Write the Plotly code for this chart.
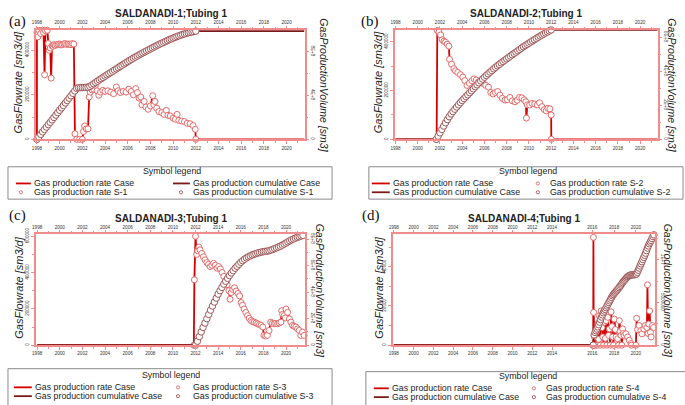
import numpy as np
import plotly.graph_objects as go

W, H = 685, 405

# ---------------- Panel (a) SALDANADI-1 ----------------
a_rate_year = [1998.00, 1998.08, 1998.17, 1998.33, 1998.50, 1998.58, 1998.67, 1998.75, 1998.92,
               1999.00, 1999.08, 1999.17, 1999.25, 1999.33, 1999.42, 1999.50, 1999.62, 1999.75,
               1999.88, 2000.00, 2000.12, 2000.25, 2000.38, 2000.50, 2000.62, 2000.75, 2000.88,
               2001.00, 2001.12, 2001.25, 2001.35, 2001.50, 2001.75, 2002.00, 2002.10,
               2002.20, 2002.35, 2002.50, 2002.60, 2002.70, 2002.85, 2003.00, 2003.15, 2003.30,
               2003.45, 2003.60, 2003.80, 2004.00, 2004.25, 2004.50, 2004.75, 2005.00, 2005.15,
               2005.35, 2005.60, 2005.85, 2006.10, 2006.30, 2006.50, 2006.70, 2006.85, 2007.00,
               2007.15, 2007.25, 2007.45, 2007.60, 2007.80, 2008.00, 2008.20, 2008.30, 2008.40,
               2008.55, 2008.75, 2009.00, 2009.20, 2009.40, 2009.55, 2009.75, 2010.00, 2010.20,
               2010.35, 2010.50, 2010.75, 2011.00, 2011.25, 2011.50, 2011.75, 2011.95, 2012.00]
a_rate = [480000, 460000, 490000, 475000, 490000, 480000, 290000, 488000, 490000,
          430000, 400000, 410000, 275000, 420000, 418000, 425000, 422000, 425000,
          427000, 428000, 424000, 425000, 429000, 430000, 426000, 428000, 427000,
          425000, 430000, 428000, 25000, 0, 0, 0, 35000,
          60000, 47000, 47000, 190000, 212000, 222000, 225000, 242000, 218000,
          198000, 212000, 220000, 215000, 218000, 212000, 205000, 235000, 218000,
          210000, 215000, 212000, 225000, 215000, 200000, 228000, 210000, 185000,
          190000, 155000, 170000, 145000, 135000, 150000, 196000, 155000, 170000,
          140000, 125000, 120000, 112000, 130000, 108000, 105000, 95000, 90000,
          112000, 85000, 82000, 80000, 72000, 70000, 62000, 45000, 0]
a_cum_year = np.round(np.arange(1998.0, 2012.01, 1 / 6), 3)
a_cum = np.array([0.00, 0.22, 0.45, 0.68, 0.90, 1.12, 1.34, 1.55, 1.77, 1.99, 2.21, 2.43,
                  2.65, 2.87, 3.09, 3.31, 3.53, 3.75, 3.97, 4.19, 4.41, 4.64, 4.70, 4.71,
                  4.71, 4.72, 4.73, 4.75, 4.82, 4.94, 5.06, 5.18, 5.30, 5.42, 5.53, 5.64,
                  5.76, 5.87, 5.98, 6.09, 6.20, 6.31, 6.42, 6.53, 6.64, 6.75, 6.86, 6.97,
                  7.08, 7.19, 7.29, 7.39, 7.49, 7.59, 7.69, 7.79, 7.88, 7.97, 8.06, 8.15,
                  8.24, 8.33, 8.42, 8.51, 8.60, 8.68, 8.76, 8.84, 8.92, 9.00, 9.08, 9.15,
                  9.22, 9.29, 9.36, 9.43, 9.49, 9.55, 9.60, 9.65, 9.70, 9.74, 9.78, 9.82,
                  9.86]) * 1e8

# ---------------- Panel (b) SALDANADI-2 ----------------
b_rate_year = [2001.70, 2001.76, 2001.91, 2002.06, 2002.21, 2002.36, 2002.50, 2002.65, 2002.80,
               2002.86, 2003.04, 2003.25, 2003.39, 2003.60, 2003.84, 2004.05, 2004.23, 2004.43,
               2004.64, 2004.88, 2005.06, 2005.26, 2005.47, 2005.71, 2005.92, 2006.12, 2006.36,
               2006.57, 2006.78, 2006.99, 2007.19, 2007.40, 2007.61, 2007.85, 2008.05, 2008.29,
               2008.50, 2008.74, 2008.94, 2009.15, 2009.36, 2009.57, 2009.72, 2009.77, 2009.86,
               2010.07, 2010.28, 2010.52, 2010.75, 2010.96, 2011.17, 2011.38, 2011.55, 2011.70,
               2011.88, 2012.00, 2012.01]
b_rate = [0, 446000, 440000, 428000, 408000, 402000, 398000, 390000, 382000,
          328000, 308000, 290000, 281000, 274000, 265000, 255000, 241000, 221000,
          230000, 240000, 248000, 243000, 236000, 232000, 228000, 221000, 214000,
          192000, 186000, 192000, 196000, 181000, 168000, 161000, 163000, 172000,
          158000, 154000, 160000, 172000, 170000, 162000, 154000, 87000, 141000,
          141000, 147000, 145000, 141000, 150000, 134000, 122000, 117000, 127000,
          125000, 100000, 0]
b_cum_year = np.round(np.arange(2001.667, 2012.01, 1 / 6), 3)
b_cum = np.array([0.00, 0.19, 0.38, 0.58, 0.78, 0.97, 1.16, 1.33, 1.49, 1.63, 1.77, 1.90,
                  2.03, 2.16, 2.28, 2.39, 2.51, 2.62, 2.74, 2.85, 2.97, 3.09, 3.20, 3.32,
                  3.43, 3.54, 3.65, 3.75, 3.85, 3.95, 4.04, 4.14, 4.23, 4.32, 4.40, 4.49,
                  4.57, 4.65, 4.73, 4.81, 4.89, 4.97, 5.05, 5.12, 5.20, 5.28, 5.36, 5.44,
                  5.51, 5.58, 5.65, 5.72, 5.79, 5.86, 5.93, 6.00, 6.07, 6.13, 6.19, 6.25,
                  6.31, 6.37, 6.43]) * 1e8

# ---------------- Panel (c) SALDANADI-3 ----------------
c_rate_year = [2011.85, 2011.90, 2012.00, 2012.10, 2012.20, 2012.30, 2012.40, 2012.55, 2012.70,
               2012.85, 2013.00, 2013.15, 2013.30, 2013.45, 2013.60, 2013.75, 2013.90, 2014.05,
               2014.20, 2014.35, 2014.50, 2014.65, 2014.80, 2014.95, 2015.05, 2015.15, 2015.30,
               2015.45, 2015.60, 2015.75, 2015.90, 2016.03, 2016.15, 2016.30, 2016.45, 2016.60,
               2016.75, 2016.90, 2017.05, 2017.20, 2017.35, 2017.50, 2017.65, 2017.80, 2017.95,
               2018.05, 2018.20, 2018.35, 2018.50, 2018.65, 2018.80, 2018.97, 2019.10, 2019.26,
               2019.40, 2019.55, 2019.62, 2019.70, 2019.85, 2019.95, 2020.00, 2020.14, 2020.30,
               2020.43, 2020.58, 2020.72, 2020.87, 2021.02, 2021.17, 2021.30, 2021.46, 2021.60]
c_rate = [0, 360000, 600000, 500000, 520000, 540000, 525000, 505000, 487000,
          470000, 455000, 445000, 433000, 440000, 451000, 440000, 424000, 433000,
          420000, 400000, 379000, 355000, 334000, 300000, 253000, 290000, 307000,
          316000, 298000, 285000, 271000, 235000, 220000, 199000, 180000, 163000,
          148000, 136000, 130000, 127000, 122000, 118000, 113000, 109000, 100000,
          54000, 50000, 54000, 81000, 127000, 120000, 118000, 120000, 118000,
          122000, 127000, 190000, 170000, 163000, 150000, 199000, 181000, 145000,
          127000, 109000, 104000, 100000, 90000, 81000, 54000, 72000, 54000]
c_cum_year = np.round(np.arange(2012.0, 2021.55, 1 / 6), 3)
c_cum = np.array([0.00, 0.30, 0.65, 1.00, 1.34, 1.67, 2.00, 2.32, 2.64, 2.95, 3.25, 3.55,
                  3.85, 4.11, 4.36, 4.60, 4.82, 5.04, 5.25, 5.44, 5.62, 5.80, 5.95, 6.10,
                  6.25, 6.37, 6.48, 6.58, 6.66, 6.73, 6.80, 6.85, 6.90, 6.95, 6.98, 7.02,
                  7.05, 7.07, 7.09, 7.12, 7.17, 7.22, 7.28, 7.34, 7.40, 7.46, 7.54, 7.62,
                  7.70, 7.79, 7.87, 7.95, 8.01, 8.07, 8.13, 8.18, 8.23, 8.28]) * 1e8

# ---------------- Panel (d) SALDANADI-4 ----------------
d_rate_year = [2016.08, 2016.10, 2016.12, 2016.20, 2016.28, 2016.36, 2016.44, 2016.50, 2016.58,
               2016.65, 2016.72, 2016.80, 2016.88, 2016.95, 2017.02, 2017.10, 2017.18, 2017.25,
               2017.32, 2017.40, 2017.48, 2017.55, 2017.62, 2017.70, 2017.78, 2017.85, 2017.92,
               2018.00, 2018.08, 2018.15, 2018.30, 2018.38, 2018.45, 2018.52, 2018.60, 2018.68,
               2018.75, 2018.82, 2018.90, 2019.05, 2019.20, 2019.35, 2019.50, 2019.55, 2019.95,
               2020.02, 2020.10, 2020.25, 2020.40, 2020.50, 2020.67, 2020.80, 2020.95, 2021.00,
               2021.06, 2021.12, 2021.20, 2021.27, 2021.33, 2021.45, 2021.55]
d_rate = [0, 55000, 16700, 4200, 0, 6700, 0, 10800, 3000,
          15000, 0, 17500, 9000, 4200, 0, 11700, 3500, 12500,
          0, 14200, 5000, 8300, 0, 17000, 9500, 4200, 0,
          13300, 8000, 4200, 3300, 0, 12500, 7000, 5000, 0,
          8300, 6000, 5000, 5800, 4200, 2500, 800, 0, 0,
          13700, 8000, 10000, 7500, 5800, 8300, 10000, 9000, 30800,
          6000, 10800, 17500, 6500, 4200, 10000, 9000]
d_cum_year = np.round(np.arange(2016.083, 2021.6, 1 / 12), 3)
d_cum = np.array([0.00, 1.20, 1.50, 1.70, 1.90, 2.15, 2.40, 2.70, 3.00, 3.30, 3.55, 3.80,
                  4.00, 4.20, 4.40, 4.60, 4.80, 5.00, 5.20, 5.40, 5.60, 5.80, 5.95, 6.10,
                  6.22, 6.35, 6.47, 6.60, 6.75, 6.90, 7.05, 7.20, 7.35, 7.50, 7.62, 7.75,
                  7.88, 8.00, 8.08, 8.15, 8.20, 8.25, 8.26, 8.27, 8.27, 8.28, 8.30, 8.35,
                  8.55, 8.80, 9.05, 9.30, 9.55, 9.80, 10.05, 10.30, 10.55, 10.80, 11.10,
                  11.40, 11.65, 11.90, 12.10, 12.30, 12.52, 12.75, 12.95]) * 1e6

years = list(range(1998, 2021, 2))
year_labels = [str(y) for y in years]

panels = [
    dict(key="a", well="SALDANADI-1;Tubing 1",
         rx=a_rate_year, ry=a_rate, cx=a_cum_year, cy=a_cum, case_end=2021.55,
         box=(32, 23, 303, 135), xr=[1997.9, 2021.64], ylr=[0, 493000], yrr=[0, 1.0e9],
         lt=[0, 200000, 400000], lminor=[100000, 300000],
         rt=[0, 4e8, 8e8], rtt=["0", "4E+8", "8E+8"], rminor=[2e8, 6e8],
         lab=(3, 15), ltitle_x=15, rtitle_x=321),
    dict(key="b", well="SALDANADI-2;Tubing 1",
         rx=b_rate_year, ry=b_rate, cx=b_cum_year, cy=b_cum, case_end=2021.55,
         box=(393, 23, 658, 135), xr=[1997.93, 2021.62], ylr=[0, 450000], yrr=[0, 6.45e8],
         lt=[0, 200000, 400000], lminor=[100000, 300000],
         rt=[0, 2e8, 4e8, 6e8], rtt=["0", "2E+8", "4E+8", "6E+8"], rminor=[1e8, 3e8, 5e8],
         lab=(357, 15), ltitle_x=377, rtitle_x=672),
    dict(key="c", well="SALDANADI-3;Tubing 1",
         rx=c_rate_year, ry=c_rate, cx=c_cum_year, cy=c_cum, case_end=2021.62,
         box=(32, 232, 303, 345), xr=[1997.88, 2021.7], ylr=[0, 610000], yrr=[0, 8.35e8],
         lt=[0, 200000, 400000, 600000], lminor=[100000, 300000, 500000],
         rt=[0, 2e8, 4e8, 6e8, 8e8], rtt=["0", "2E+8", "4E+8", "6E+8", "8E+8"],
         rminor=[1e8, 3e8, 5e8, 7e8],
         lab=(3, 213), ltitle_x=15, rtitle_x=318),
    dict(key="d", well="SALDANADI-4;Tubing 1",
         rx=d_rate_year, ry=d_rate, cx=d_cum_year, cy=d_cum, case_end=2021.6,
         box=(391, 232, 655, 345), xr=[1997.9, 2021.7], ylr=[0, 56500], yrr=[0, 1.3e7],
         lt=[0, 20000, 40000], lminor=[10000, 30000, 50000],
         rt=[0, 5e6, 1e7], rtt=["0", "5000000", "1E+7"], rminor=[2.5e6, 7.5e6, 1.25e7],
         lab=(358, 213), ltitle_x=377, rtitle_x=668),
]

# tick label positions of panel (d): early years are drawn compressed in the original
d_tick_pos = list(np.interp(years, [1998, 2014, 2016, 2020], [1998.0, 2012.35, 2016.0, 2019.95]))

RATE_C = "#d40000"
CUM_C = "#7a1a1a"
RATE_M = "#e46a6a"
CUM_M = "#9e5656"
FRAME = "#f08c8c"
TXT = "#333333"
FONT = "Liberation Sans, Arial, sans-serif"

fig = go.Figure()
layout = dict(width=W, height=H, margin=dict(l=0, r=0, t=0, b=0), autosize=False,
              paper_bgcolor="white", plot_bgcolor="white", showlegend=False,
              font=dict(family=FONT, color=TXT))
annotations = []
shapes = []


def fx(px):
    return px / W


def fy(py):
    return 1 - py / H


def ax(s):
    return s.replace("x", "xaxis").replace("y", "yaxis")


for i, p in enumerate(panels, start=1):
    xb, yl, yr, xt = f"x{i}", f"y{i}", f"y{i + 4}", f"x{i + 4}"
    x0, y0, x1, y1 = p["box"]
    dom_x = [fx(x0), fx(x1)]
    dom_y = [fy(y1), fy(y0)]
    if p["key"] == "d":
        tv = d_tick_pos
        mv = None
    else:
        tv = years
        mv = list(range(1998, 2022))
    common_x = dict(range=p["xr"], tickmode="array", tickvals=tv, ticktext=year_labels,
                    ticks="outside", ticklen=3, tickwidth=1, tickcolor=FRAME,
                    tickfont=dict(size=4.6, color=TXT), showgrid=False, zeroline=False)
    if mv is not None:
        common_x["minor"] = dict(tickvals=mv, ticks="outside", ticklen=2, tickcolor=FRAME)
    layout[ax(xb)] = dict(domain=dom_x, anchor=yl, side="bottom", showline=True, mirror=True,
                          linecolor=FRAME, linewidth=1.5, **common_x)
    layout[ax(xt)] = dict(overlaying=xb, matches=xb, anchor=yl, side="top", showline=False,
                          **common_x)
    layout[ax(yl)] = dict(domain=dom_y, anchor=xb, side="left", range=p["ylr"],
                          tickmode="array", tickvals=p["lt"], ticktext=[str(v) for v in p["lt"]],
                          tickangle=-90, ticks="outside", ticklen=3, tickcolor=FRAME,
                          tickfont=dict(size=4.6, color=TXT), showline=True, mirror=True,
                          linecolor=FRAME, linewidth=1.5, showgrid=False, zeroline=False,
                          minor=dict(tickvals=p["lminor"], ticks="outside", ticklen=2,
                                     tickcolor=FRAME))
    layout[ax(yr)] = dict(overlaying=yl, anchor=xb, side="right", range=p["yrr"],
                          tickmode="array", tickvals=p["rt"], ticktext=p["rtt"],
                          tickangle=90, ticks="outside", ticklen=3, tickcolor=FRAME,
                          tickfont=dict(size=4.6, color=TXT), showline=False,
                          showgrid=False, zeroline=False,
                          minor=dict(tickvals=p["rminor"], ticks="outside", ticklen=2,
                                     tickcolor=FRAME))

    # Case lines (simulation period spans the whole axis)
    line_rx = [1998.0] + list(p["rx"]) + [p["case_end"]]
    line_ry = [0] + list(p["ry"]) + [p["ry"][-1]]
    line_cx = [1998.0] + list(p["cx"]) + [p["case_end"]]
    line_cy = [0] + list(p["cy"]) + [p["cy"][-1]]
    fig.add_trace(go.Scatter(x=line_rx, y=line_ry, mode="lines", xaxis=xb, yaxis=yl,
                             line=dict(color=RATE_C, width=1.8)))
    fig.add_trace(go.Scatter(x=line_cx, y=line_cy, mode="lines", xaxis=xb, yaxis=yr,
                             line=dict(color=CUM_C, width=1.8)))
    # Observed symbols
    fig.add_trace(go.Scatter(x=p["rx"], y=p["ry"], mode="markers", xaxis=xb, yaxis=yl,
                             marker=dict(symbol="circle", size=6, color="white",
                                         line=dict(color=RATE_M, width=1)), cliponaxis=False))
    fig.add_trace(go.Scatter(x=p["cx"], y=p["cy"], mode="markers", xaxis=xb, yaxis=yr,
                             marker=dict(symbol="circle", size=6.5, color="white",
                                         line=dict(color=CUM_M, width=1)), cliponaxis=False))
    # anchor trace for the top axis
    fig.add_trace(go.Scatter(x=[p["xr"][0]], y=[0], mode="markers", xaxis=xt, yaxis=yl,
                             marker=dict(size=1, opacity=0), hoverinfo="skip"))

    cxm = (x0 + x1) / 2
    annotations.append(dict(text=f"<b>{p['well']}</b>", x=fx(cxm), y=fy(y0 - 16), xref="paper",
                            yref="paper", showarrow=False, xanchor="center", yanchor="middle",
                            font=dict(size=10, color="#222", family=FONT)))
    annotations.append(dict(text=f"({p['key']})", x=fx(p["lab"][0]), y=fy(p["lab"][1]),
                            xref="paper", yref="paper", showarrow=False, xanchor="left",
                            yanchor="middle",
                            font=dict(size=15, color="#111",
                                      family="Liberation Serif, Times New Roman, serif")))
    cym = (y0 + y1) / 2
    annotations.append(dict(text="<i>GasFlowrate [sm3/d]</i>", x=fx(p["ltitle_x"]), y=fy(cym - 2),
                            xref="paper", yref="paper", showarrow=False, textangle=-90,
                            xanchor="center", yanchor="middle",
                            font=dict(size=11, color="#222", family=FONT)))
    annotations.append(dict(text="<i>GasProductionVolume [sm3]</i>", x=fx(p["rtitle_x"]),
                            y=fy(cym + 1), xref="paper", yref="paper", showarrow=False,
                            textangle=90, xanchor="center", yanchor="middle",
                            font=dict(size=10.5, color="#222", family=FONT)))

# ---------------- legends ----------------
LEG_FONT = dict(size=8.8, color="#222", family=FONT)


def legend(box, title_xy, items):
    bx0, by0, bx1, by1 = box
    shapes.append(dict(type="rect", xref="paper", yref="paper", x0=fx(bx0), x1=fx(bx1),
                       y0=fy(by1), y1=fy(by0), line=dict(color="#8a8a8a", width=1)))
    annotations.append(dict(text="Symbol legend", x=fx(title_xy[0]), y=fy(title_xy[1]),
                            xref="paper", yref="paper", showarrow=False, xanchor="center",
                            yanchor="middle", font=LEG_FONT))
    for kind, color, sx0, sx1, tx, ty, label in items:
        if kind == "line":
            shapes.append(dict(type="line", xref="paper", yref="paper", x0=fx(sx0), x1=fx(sx1),
                               y0=fy(ty), y1=fy(ty), line=dict(color=color, width=1.8)))
        else:
            r = 1.6
            shapes.append(dict(type="circle", xref="paper", yref="paper",
                               x0=fx(sx0 - r), x1=fx(sx0 + r), y0=fy(ty + r), y1=fy(ty - r),
                               line=dict(color=color, width=0.9)))
        annotations.append(dict(text=label, x=fx(tx), y=fy(ty), xref="paper", yref="paper",
                                showarrow=False, xanchor="left", yanchor="middle",
                                font=LEG_FONT))


legend((4, 163, 330, 196), (169, 167), [
    ("line", RATE_C, 12, 27, 28, 180, "Gas production rate Case"),
    ("line", CUM_C, 170, 187, 188, 180, "Gas production cumulative Case"),
    ("mark", RATE_M, 17, 17, 28, 189, "Gas production rate S-1"),
    ("mark", CUM_M, 178, 178, 188, 189, "Gas production cumulative S-1"),
])
legend((367, 163, 683, 196), (527, 167), [
    ("line", RATE_C, 370, 388, 389, 180, "Gas production rate Case"),
    ("mark", RATE_M, 537, 537, 547, 180, "Gas production rate S-2"),
    ("line", CUM_C, 370, 388, 389, 189, "Gas production cumulative Case"),
    ("mark", CUM_M, 537, 537, 547, 189, "Gas production cumulative S-2"),
])
legend((4, 369, 330, 408), (168, 375), [
    ("line", RATE_C, 10, 28, 29, 388, "Gas production rate Case"),
    ("mark", RATE_M, 175, 175, 188, 388, "Gas production rate S-3"),
    ("line", CUM_C, 10, 28, 29, 397, "Gas production cumulative Case"),
    ("mark", CUM_M, 175, 175, 188, 397, "Gas production cumulative S-3"),
])
legend((364, 372, 690, 408), (527, 376), [
    ("line", RATE_C, 372, 387, 388, 389, "Gas production rate Case"),
    ("mark", RATE_M, 533, 533, 543, 389, "Gas production rate S-4"),
    ("line", CUM_C, 372, 387, 388, 398, "Gas production cumulative Case"),
    ("mark", CUM_M, 533, 533, 543, 398, "Gas production cumulative S-4"),
])

layout["annotations"] = annotations
layout["shapes"] = shapes
fig.update_layout(**layout)
fig.write_html("out.html", config={"displayModeBar": False},
               post_script="document.body.style.margin='0';document.body.style.padding='0';")
